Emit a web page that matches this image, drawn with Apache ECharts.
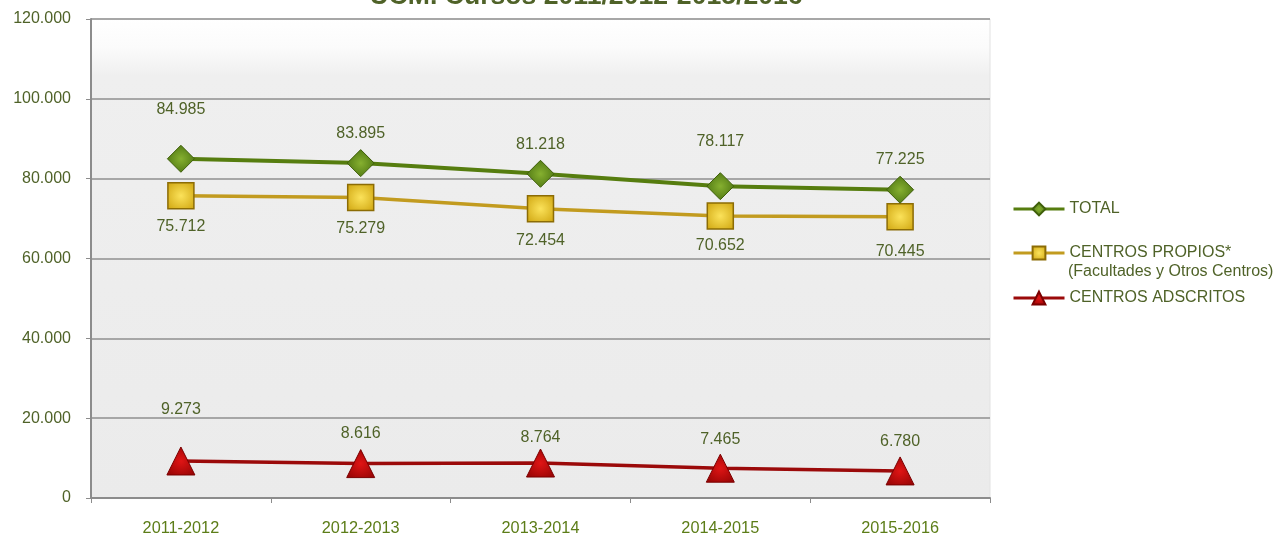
<!DOCTYPE html>
<html>
<head>
<meta charset="utf-8">
<script src="https://cdn.jsdelivr.net/npm/echarts@6/dist/echarts.min.js"></script>
<style>
  html, body { margin: 0; padding: 0; background: #fff; }
  #chart { width: 1278px; height: 537px; }
</style>
</head>
<body>
<div id="chart"></div>
<script>
const cursos = ["2011-2012", "2012-2013", "2013-2014", "2014-2015", "2015-2016"];
const total = [84985, 83895, 81218, 78117, 77225];
const propios = [75712, 75279, 72454, 70652, 70445];
const adscritos = [9273, 8616, 8764, 7465, 6780];

// vertical offset of each value label from its marker (px)
const totalDy = [-49, -30, -29, -45, -30];
const propiosDy = [31, 31, 32, 30, 35];
const adscritosDy = [-51, -30, -25, -29, -29];

const textGreen = "#4f6228";
const font = "Liberation Sans, Arial, sans-serif";
const fmt = (v) => String(v).replace(/\B(?=(\d{3})+(?!\d))/g, ".");

const radial = (inner, outer) => ({
  type: "radial", x: 0.5, y: 0.5, r: 0.6,
  colorStops: [{ offset: 0, color: inner }, { offset: 1, color: outer }],
});

const withLabels = (values, dys) =>
  values.map((v, i) => ({ value: v, label: { offset: [0, dys[i]] } }));

const chart = echarts.init(document.getElementById("chart"));

const labelBase = {
  show: true,
  position: "inside",
  color: textGreen,
  fontSize: 16,
  fontFamily: font,
  formatter: (p) => fmt(p.value),
};

const legendAt = (name, top) => ({
  data: [name], orient: "vertical", left: 1012, top: top, padding: 0,
  itemWidth: 51, itemHeight: 16,
  lineStyle: { width: 3 },
  textStyle: { color: textGreen, fontSize: 16, fontFamily: font },
});

chart.setOption({
  animation: false,
  textStyle: { fontFamily: font },
  title: {
    text: "UCM. Cursos 2011/2012-2015/2016",
    left: 581,
    textAlign: "center",
    top: -22,
    textStyle: { color: textGreen, fontSize: 26.6, fontWeight: "bold", fontFamily: font },
  },
  grid: {
    left: 91, right: 288, top: 19, bottom: 39,
    show: true,
    borderColor: "#e2e2e2",
    borderWidth: 1,
    backgroundColor: {
      type: "linear", x: 0, y: 0, x2: 0, y2: 1,
      colorStops: [
        { offset: 0, color: "#ffffff" },
        { offset: 0.06, color: "#fbfbfb" },
        { offset: 0.12, color: "#efefef" },
        { offset: 1, color: "#ebebeb" },
      ],
    },
  },
  legend: [
    legendAt("TOTAL", 201),
    legendAt("CENTROS PROPIOS*", 245),
    legendAt("CENTROS ADSCRITOS", 290),
  ],
  graphic: [
    {
      type: "text", left: 1068, top: 264,
      style: { text: "(Facultades y Otros Centros)", fill: textGreen, fontSize: 16, fontFamily: font },
    },
  ],
  xAxis: {
    type: "category",
    data: cursos,
    boundaryGap: true,
    axisLine: { lineStyle: { color: "#8c8c8c", width: 2 } },
    axisTick: { show: true, length: 5, lineStyle: { color: "#8c8c8c" } },
    axisLabel: { color: "#5c7d18", fontSize: 16.3, margin: 23 },
  },
  yAxis: {
    type: "value",
    min: 0, max: 120000, interval: 20000,
    axisLine: { show: true, lineStyle: { color: "#8c8c8c", width: 2 } },
    axisTick: { show: true, length: 5, lineStyle: { color: "#8c8c8c" } },
    axisLabel: { color: textGreen, fontSize: 16, margin: 20, formatter: (v) => fmt(v) },
    splitLine: { lineStyle: { color: "#8f8f8f", width: 1.5 } },
  },
  series: [
    {
      name: "TOTAL",
      type: "line",
      data: withLabels(total, totalDy),
      symbol: "diamond",
      symbolSize: 27,
      lineStyle: { color: "#567d0f", width: 4 },
      itemStyle: { color: radial("#86b030", "#4a7210"), borderColor: "#3f5f0a", borderWidth: 1 },
      label: labelBase,
      z: 4,
    },
    {
      name: "CENTROS PROPIOS*",
      type: "line",
      data: withLabels(propios, propiosDy),
      symbol: "rect",
      symbolSize: 26,
      lineStyle: { color: "#c29b1f", width: 3.5 },
      itemStyle: { color: radial("#fbe25a", "#d4ac18"), borderColor: "#8c6c05", borderWidth: 1.5 },
      label: labelBase,
      z: 3,
    },
    {
      name: "CENTROS ADSCRITOS",
      type: "line",
      data: withLabels(adscritos, adscritosDy),
      symbol: "triangle",
      symbolSize: 28,
      lineStyle: { color: "#9b0a0a", width: 3.5 },
      itemStyle: { color: radial("#e01515", "#9a0505"), borderColor: "#7a0000", borderWidth: 1 },
      label: labelBase,
      z: 3,
    },
  ],
});
</script>
</body>
</html>
